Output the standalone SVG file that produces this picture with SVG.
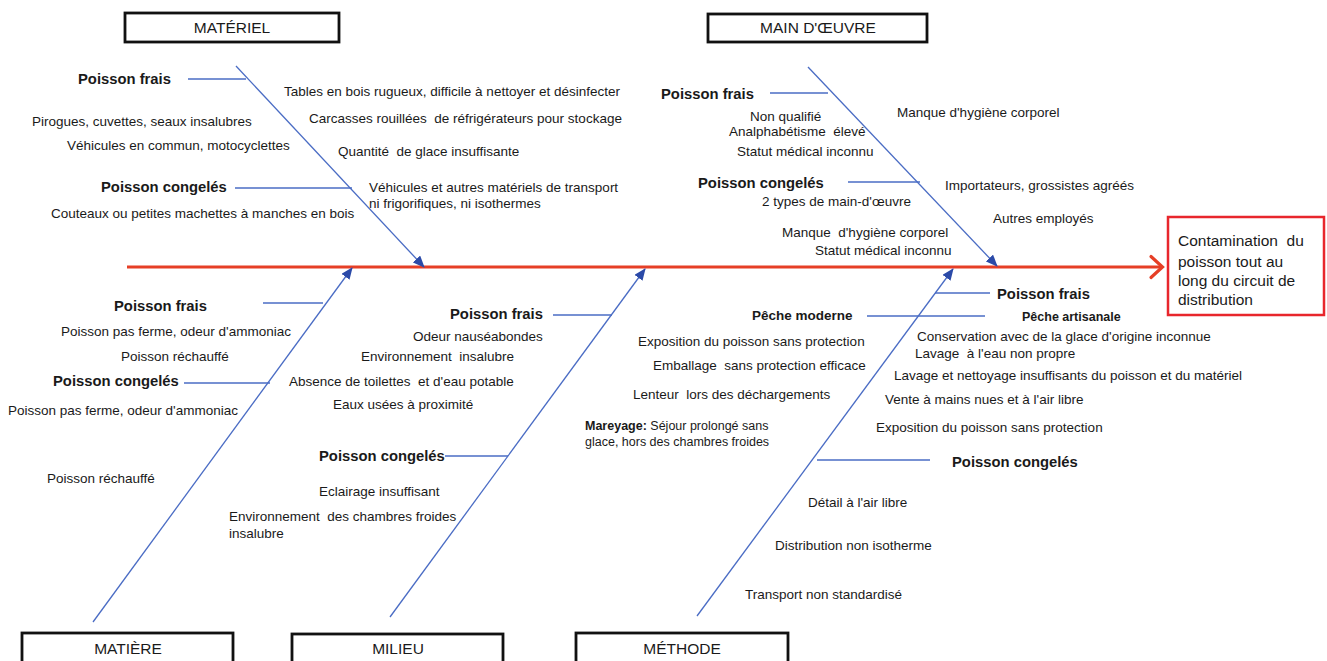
<svg xmlns="http://www.w3.org/2000/svg" width="1327" height="661" viewBox="0 0 1327 661">
<style>
text{font-family:"Liberation Sans",Arial,sans-serif;fill:#1a1a1a;white-space:pre}
.t{font-size:13.5px}
.h{font-size:14.8px;font-weight:bold}
.hs{font-size:13.5px;font-weight:bold}
.hx{font-size:12.5px;font-weight:bold}
.cat{font-size:15.5px;text-anchor:middle}
.eff{font-size:15.5px}
.box{fill:#fff;stroke:#111;stroke-width:2.8}
.bone{stroke:#4a6cc4;stroke-width:1.3;fill:none}
.sub{stroke:#4a6cc4;stroke-width:1.3;fill:none}
.spine{stroke:#e63f26;stroke-width:3.2;fill:none}
</style>
<defs>
<marker id="ah" markerUnits="userSpaceOnUse" markerWidth="12" markerHeight="10" viewBox="0 0 12 10" refX="11" refY="5" orient="auto">
<path d="M0,0 L12,5 L0,10 z" fill="#2b4aa8"/>
</marker>
</defs>
<rect width="1327" height="661" fill="#fff"/>

<g id="connectors">
<line class="spine" x1="127" y1="267" x2="1162" y2="267"/>
<polyline class="spine" points="1151,256.5 1162.5,267 1151,277.5" stroke-linecap="round" stroke-linejoin="miter"/>
<line class="bone" x1="236" y1="66" x2="424" y2="267" marker-end="url(#ah)"/>
<line class="bone" x1="808" y1="67" x2="997" y2="266" marker-end="url(#ah)"/>
<line class="bone" x1="93" y1="622" x2="352" y2="268" marker-end="url(#ah)"/>
<line class="bone" x1="390" y1="617" x2="645" y2="269" marker-end="url(#ah)"/>
<line class="bone" x1="697" y1="616" x2="953" y2="269" marker-end="url(#ah)"/>
<line class="sub" x1="188" y1="79" x2="246" y2="79"/>
<line class="sub" x1="235" y1="188" x2="352" y2="188"/>
<line class="sub" x1="770" y1="93" x2="828" y2="93"/>
<line class="sub" x1="848" y1="182" x2="920" y2="182"/>
<line class="sub" x1="263" y1="303" x2="323" y2="303"/>
<line class="sub" x1="184" y1="383" x2="270" y2="383"/>
<line class="sub" x1="553" y1="315" x2="612" y2="315"/>
<line class="sub" x1="445" y1="456" x2="508" y2="456"/>
<line class="sub" x1="867" y1="316" x2="985" y2="316"/>
<line class="sub" x1="935" y1="293" x2="990" y2="293"/>
<line class="sub" x1="817" y1="460" x2="930" y2="460"/>
</g>

<g id="materiel">
<rect class="box" x="125" y="13" width="214" height="29"/>
<text class="cat" x="232" y="33">MATÉRIEL</text>
<text class="h" x="78" y="84">Poisson frais</text>
<text class="t" x="284" y="96">Tables en bois rugueux, difficile à nettoyer et désinfecter</text>
<text class="t" x="32" y="126">Pirogues, cuvettes, seaux insalubres</text>
<text class="t" x="309" y="123" xml:space="preserve">Carcasses rouillées  de réfrigérateurs pour stockage</text>
<text class="t" x="67" y="150">Véhicules en commun, motocyclettes</text>
<text class="t" x="338" y="156" xml:space="preserve">Quantité  de glace insuffisante</text>
<text class="h" x="101" y="192">Poisson congelés</text>
<text class="t" x="369" y="192">Véhicules et autres matériels de transport</text>
<text class="t" x="369" y="208">ni frigorifiques, ni isothermes</text>
<text class="t" x="51" y="218">Couteaux ou petites machettes à manches en bois</text>
</g>

<g id="main-oeuvre">
<rect class="box" x="708" y="14" width="219" height="28"/>
<text class="cat" x="818" y="33">MAIN D'ŒUVRE</text>
<text class="h" x="661" y="99">Poisson frais</text>
<text class="t" x="897" y="117">Manque d'hygiène corporel</text>
<text class="t" x="750" y="121">Non qualifié</text>
<text class="t" x="729" y="136" xml:space="preserve">Analphabétisme  élevé</text>
<text class="t" x="737" y="156">Statut médical inconnu</text>
<text class="h" x="698" y="188">Poisson congelés</text>
<text class="t" x="945" y="190">Importateurs, grossistes agréés</text>
<text class="t" x="762" y="206">2 types de main-d'œuvre</text>
<text class="t" x="993" y="223">Autres employés</text>
<text class="t" x="782" y="237" xml:space="preserve">Manque  d'hygiène corporel</text>
<text class="t" x="815" y="255">Statut médical inconnu</text>
</g>

<g id="effet">
<rect x="1168" y="217" width="156" height="98" fill="#fff" stroke="#e8262c" stroke-width="2.5"/>
<text class="eff" x="1178" y="246" xml:space="preserve">Contamination  du</text>
<text class="eff" x="1178" y="267">poisson tout au</text>
<text class="eff" x="1178" y="286">long du circuit de</text>
<text class="eff" x="1178" y="305">distribution</text>
</g>

<g id="matiere">
<rect class="box" x="22" y="633" width="211" height="40"/>
<text class="cat" x="128" y="654">MATIÈRE</text>
<text class="h" x="114" y="311">Poisson frais</text>
<text class="t" x="61" y="336">Poisson pas ferme, odeur d'ammoniac</text>
<text class="t" x="121" y="361">Poisson réchauffé</text>
<text class="h" x="53" y="386">Poisson congelés</text>
<text class="t" x="8" y="415">Poisson pas ferme, odeur d'ammoniac</text>
<text class="t" x="47" y="483">Poisson réchauffé</text>
</g>

<g id="milieu">
<rect class="box" x="292" y="634" width="211" height="40"/>
<text class="cat" x="398" y="654">MILIEU</text>
<text class="h" x="450" y="319">Poisson frais</text>
<text class="t" x="413" y="341">Odeur nauséabondes</text>
<text class="t" x="361" y="361" xml:space="preserve">Environnement  insalubre</text>
<text class="t" x="289" y="386" xml:space="preserve">Absence de toilettes  et d'eau potable</text>
<text class="t" x="333" y="409">Eaux usées à proximité</text>
<text class="h" x="319" y="461">Poisson congelés</text>
<text class="t" x="319" y="496">Eclairage insuffisant</text>
<text class="t" x="229" y="521" xml:space="preserve">Environnement  des chambres froides</text>
<text class="t" x="229" y="538">insalubre</text>
</g>

<g id="methode">
<rect class="box" x="576" y="633" width="212" height="40"/>
<text class="cat" x="682" y="654">MÉTHODE</text>
<text class="hs" x="752" y="320">Pêche moderne</text>
<text class="h" x="997" y="299">Poisson frais</text>
<text class="hx" x="1022" y="321">Pêche artisanale</text>
<text class="t" x="638" y="346">Exposition du poisson sans protection</text>
<text class="t" x="917" y="341">Conservation avec de la glace d'origine inconnue</text>
<text class="t" x="915" y="358" xml:space="preserve">Lavage  à l'eau non propre</text>
<text class="t" x="653" y="370" xml:space="preserve">Emballage  sans protection efficace</text>
<text class="t" x="894" y="380">Lavage et nettoyage insuffisants du poisson et du matériel</text>
<text class="t" x="633" y="399" xml:space="preserve">Lenteur  lors des déchargements</text>
<text class="t" x="885" y="404">Vente à mains nues et à l'air libre</text>
<text class="t" x="585" y="430" style="font-size:12.5px"><tspan font-weight="bold">Mareyage:</tspan> Séjour prolongé sans</text>
<text class="t" x="585" y="446" style="font-size:12.5px">glace, hors des chambres froides</text>
<text class="t" x="876" y="432">Exposition du poisson sans protection</text>
<text class="h" x="952" y="467">Poisson congelés</text>
<text class="t" x="808" y="507">Détail à l'air libre</text>
<text class="t" x="775" y="550">Distribution non isotherme</text>
<text class="t" x="745" y="599">Transport non standardisé</text>
</g>
</svg>
